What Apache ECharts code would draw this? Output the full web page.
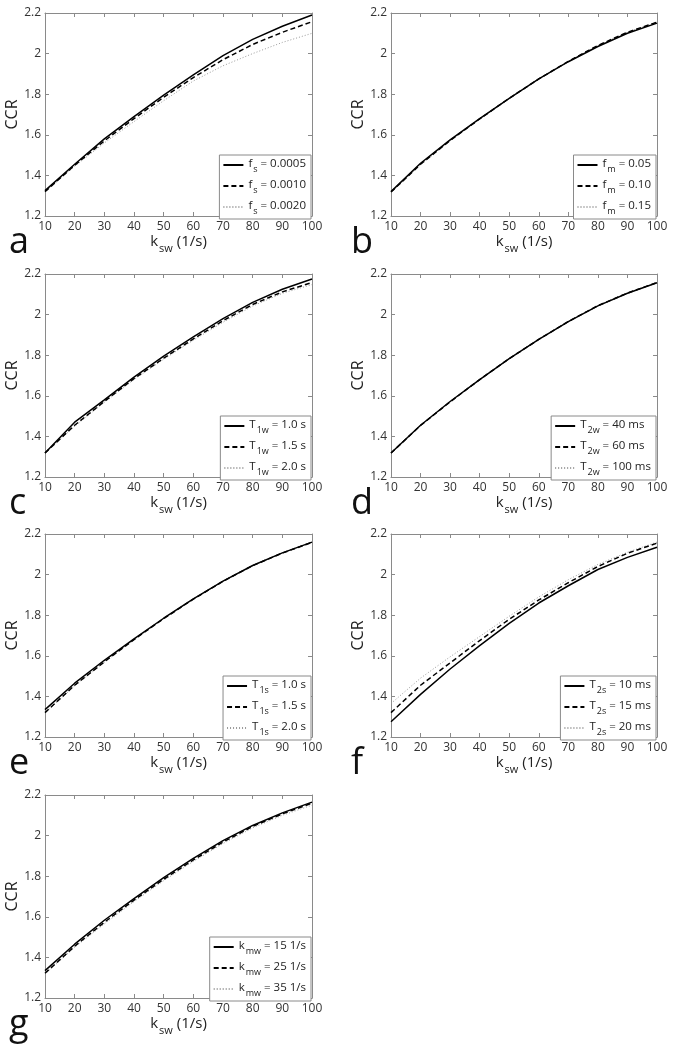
<!DOCTYPE html>
<html><head><meta charset="utf-8">
<script src="https://cdn.jsdelivr.net/npm/echarts@6/dist/echarts.min.js"></script>
<style>html,body{margin:0;padding:0;background:#fff}#c{width:676px;height:1044px}</style>
</head><body><div id="c"></div>
<script>
const ksw = [10, 20, 30, 40, 50, 60, 70, 80, 90, 100];
const yTicks = [1.2, 1.4, 1.6, 1.8, 2.0, 2.2];
const panelLetters = ['a', 'b', 'c', 'd', 'e', 'f', 'g'];

const aLabels = ['f_s = 0.0005', 'f_s = 0.0010', 'f_s = 0.0020'];
const aSolid  = [1.325, 1.455, 1.580, 1.690, 1.795, 1.895, 1.990, 2.070, 2.135, 2.190];
const aDashed = [1.320, 1.450, 1.570, 1.680, 1.785, 1.882, 1.970, 2.045, 2.105, 2.157];
const aDotted = [1.318, 1.445, 1.560, 1.665, 1.768, 1.865, 1.940, 2.000, 2.055, 2.100];

const bLabels = ['f_m = 0.05', 'f_m = 0.10', 'f_m = 0.15'];
const bSolid  = [1.320, 1.460, 1.575, 1.680, 1.780, 1.875, 1.960, 2.035, 2.100, 2.150];
const bDashed = [1.318, 1.455, 1.572, 1.678, 1.780, 1.875, 1.962, 2.040, 2.105, 2.155];
const bDotted = [1.316, 1.452, 1.570, 1.676, 1.778, 1.874, 1.962, 2.040, 2.106, 2.156];

const cLabels = ['T_1w = 1.0 s', 'T_1w = 1.5 s', 'T_1w = 2.0 s'];
const cSolid  = [1.318, 1.470, 1.580, 1.692, 1.795, 1.890, 1.980, 2.060, 2.125, 2.175];
const cDashed = [1.318, 1.455, 1.572, 1.685, 1.785, 1.880, 1.970, 2.050, 2.112, 2.158];
const cDotted = [1.318, 1.450, 1.568, 1.680, 1.780, 1.874, 1.962, 2.042, 2.105, 2.148];

const dLabels = ['T_2w = 40 ms', 'T_2w = 60 ms', 'T_2w = 100 ms'];
const dSolid  = [1.318, 1.455, 1.572, 1.680, 1.783, 1.878, 1.965, 2.043, 2.105, 2.157];
const dDashed = [1.318, 1.454, 1.570, 1.680, 1.783, 1.878, 1.966, 2.044, 2.106, 2.158];
const dDotted = [1.318, 1.454, 1.570, 1.679, 1.783, 1.878, 1.966, 2.044, 2.106, 2.158];

const eLabels = ['T_1s = 1.0 s', 'T_1s = 1.5 s', 'T_1s = 2.0 s'];
const eSolid  = [1.335, 1.465, 1.578, 1.683, 1.785, 1.880, 1.968, 2.045, 2.107, 2.160];
const eDashed = [1.320, 1.455, 1.570, 1.680, 1.783, 1.879, 1.967, 2.044, 2.106, 2.159];
const eDotted = [1.318, 1.452, 1.568, 1.678, 1.782, 1.878, 1.967, 2.044, 2.106, 2.159];

const fLabels = ['T_2s = 10 ms', 'T_2s = 15 ms', 'T_2s = 20 ms'];
const fSolid  = [1.275, 1.410, 1.535, 1.650, 1.760, 1.860, 1.945, 2.025, 2.085, 2.135];
const fDashed = [1.320, 1.455, 1.565, 1.675, 1.780, 1.875, 1.960, 2.040, 2.105, 2.155];
const fDotted = [1.365, 1.490, 1.595, 1.695, 1.795, 1.890, 1.975, 2.050, 2.110, 2.160];

const gLabels = ['k_mw = 15 1/s', 'k_mw = 25 1/s', 'k_mw = 35 1/s'];
const gSolid  = [1.335, 1.465, 1.583, 1.690, 1.793, 1.888, 1.975, 2.050, 2.112, 2.165];
const gDashed = [1.322, 1.455, 1.573, 1.682, 1.785, 1.880, 1.968, 2.045, 2.107, 2.160];
const gDotted = [1.318, 1.450, 1.565, 1.675, 1.778, 1.873, 1.961, 2.038, 2.100, 2.150];

const panels = [
  [aLabels, aSolid, aDashed, aDotted],
  [bLabels, bSolid, bDashed, bDotted],
  [cLabels, cSolid, cDashed, cDotted],
  [dLabels, dSolid, dDashed, dDotted],
  [eLabels, eSolid, eDashed, eDotted],
  [fLabels, fSolid, fDashed, fDotted],
  [gLabels, gSolid, gDashed, gDotted]
];

const FONT = '"Open Sans", "Noto Sans", sans-serif';
const AXC = '#8a8a8a';
const colLeft = [45, 391];
const colWidth = [267, 266];
const rowTop = [13, 274, 534, 795];
const plotH = 203;

function subRich(name) {
  const m = name.match(/^(\w)_(\w+)(.*)$/);
  if (!m) return name;
  return '{m|' + m[1] + '}{s|' + m[2] + '}{m|' + m[3] + '}';
}
const legendRich = {
  m: { fontSize: 11.5, fontFamily: FONT, color: '#222', lineHeight: 14, verticalAlign: 'top' },
  s: { fontSize: 9, fontFamily: FONT, color: '#222', lineHeight: 14, padding: [7, 0, 0, 1], verticalAlign: 'top' }
};
const lineStyles = [
  { color: '#000', width: 1.5, type: 'solid' },
  { color: '#000', width: 1.5, type: [5, 3] },
  { color: '#999', width: 1, type: [1, 2] }
];

const grid = [], xAxis = [], yAxis = [], series = [], legend = [], title = [];
panels.forEach((p, i) => {
  const col = i % 2, row = Math.floor(i / 2);
  const left = colLeft[col], top = rowTop[row];
  grid.push({ left: left, top: top, width: colWidth[col], height: plotH, show: false });
  const tickCommon = { show: true, inside: true, length: 4, lineStyle: { color: AXC } };
  xAxis.push({
    type: 'value', gridIndex: i, min: 10, max: 100, interval: 10, position: 'bottom',
    axisLine: { show: true, lineStyle: { color: AXC, width: 1 } },
    axisTick: tickCommon, splitLine: { show: false },
    axisLabel: { color: '#333', fontSize: 12, fontFamily: FONT, margin: 5 },
    name: '{m|k}{s|sw}{m| (1/s)}', nameLocation: 'middle', nameGap: 17,
    nameTextStyle: { rich: {
      m: { fontSize: 15, fontFamily: FONT, color: '#222', lineHeight: 16, verticalAlign: 'top' },
      s: { fontSize: 11, fontFamily: FONT, color: '#222', lineHeight: 16, padding: [9, 0, 0, 1], verticalAlign: 'top' }
    } }
  });
  xAxis.push({
    type: 'value', gridIndex: i, min: 10, max: 100, interval: 10, position: 'top',
    axisLine: { show: true, lineStyle: { color: AXC, width: 1 } },
    axisTick: tickCommon, axisLabel: { show: false }, splitLine: { show: false }
  });
  yAxis.push({
    type: 'value', gridIndex: i, min: 1.2, max: 2.2, interval: 0.2, position: 'left',
    axisLine: { show: true, lineStyle: { color: AXC, width: 1 } },
    axisTick: tickCommon, splitLine: { show: false },
    axisLabel: { color: '#333', fontSize: 12, fontFamily: FONT, margin: 4,
      formatter: v => { const t = yTicks.find(k => Math.abs(k - v) < 1e-6); return t === undefined ? '' : String(+t.toFixed(1)); } },
    name: 'CCR', nameLocation: 'middle', nameGap: 20,
    nameTextStyle: { fontSize: 16, fontFamily: FONT, color: '#222' }
  });
  yAxis.push({
    type: 'value', gridIndex: i, min: 1.2, max: 2.2, interval: 0.2, position: 'right',
    axisLine: { show: true, lineStyle: { color: AXC, width: 1 } },
    axisTick: tickCommon, axisLabel: { show: false }, splitLine: { show: false }
  });
  const labels = p[0];
  for (let k = 0; k < 3; k++) {
    series.push({
      type: 'line', name: labels[k], xAxisIndex: 2 * i, yAxisIndex: 2 * i,
      data: ksw.map((x, j) => [x, p[k + 1][j]]),
      symbol: 'none', showSymbol: false, smooth: false, lineStyle: lineStyles[k], itemStyle: { color: lineStyles[k].color },
      z: 10 - k, silent: true, animation: false
    });
  }
  legend.push({
    data: labels, orient: 'vertical',
    right: 676 - (left + colWidth[col]) + 1, top: top + plotH - 61,
    itemWidth: 20, itemHeight: 12, itemGap: 5, padding: [3, 5, 3, 3],
    itemStyle: { opacity: 0, color: 'rgba(0,0,0,0)', borderWidth: 0 },
    borderColor: AXC, borderWidth: 1, backgroundColor: '#fff', selectedMode: false,
    formatter: subRich, textStyle: { rich: legendRich, fontFamily: FONT }
  });
  title.push({
    text: panelLetters[i], left: col === 0 ? 4 : 346, top: top + plotH + 4,
    textStyle: { fontSize: 36, fontWeight: 'normal', fontFamily: FONT, color: '#111' }
  });
});

const chart = echarts.init(document.getElementById('c'), null, { renderer: 'canvas' });
chart.setOption({ animation: false, backgroundColor: '#fff', grid, xAxis, yAxis, series, legend, title });
</script></body></html>
